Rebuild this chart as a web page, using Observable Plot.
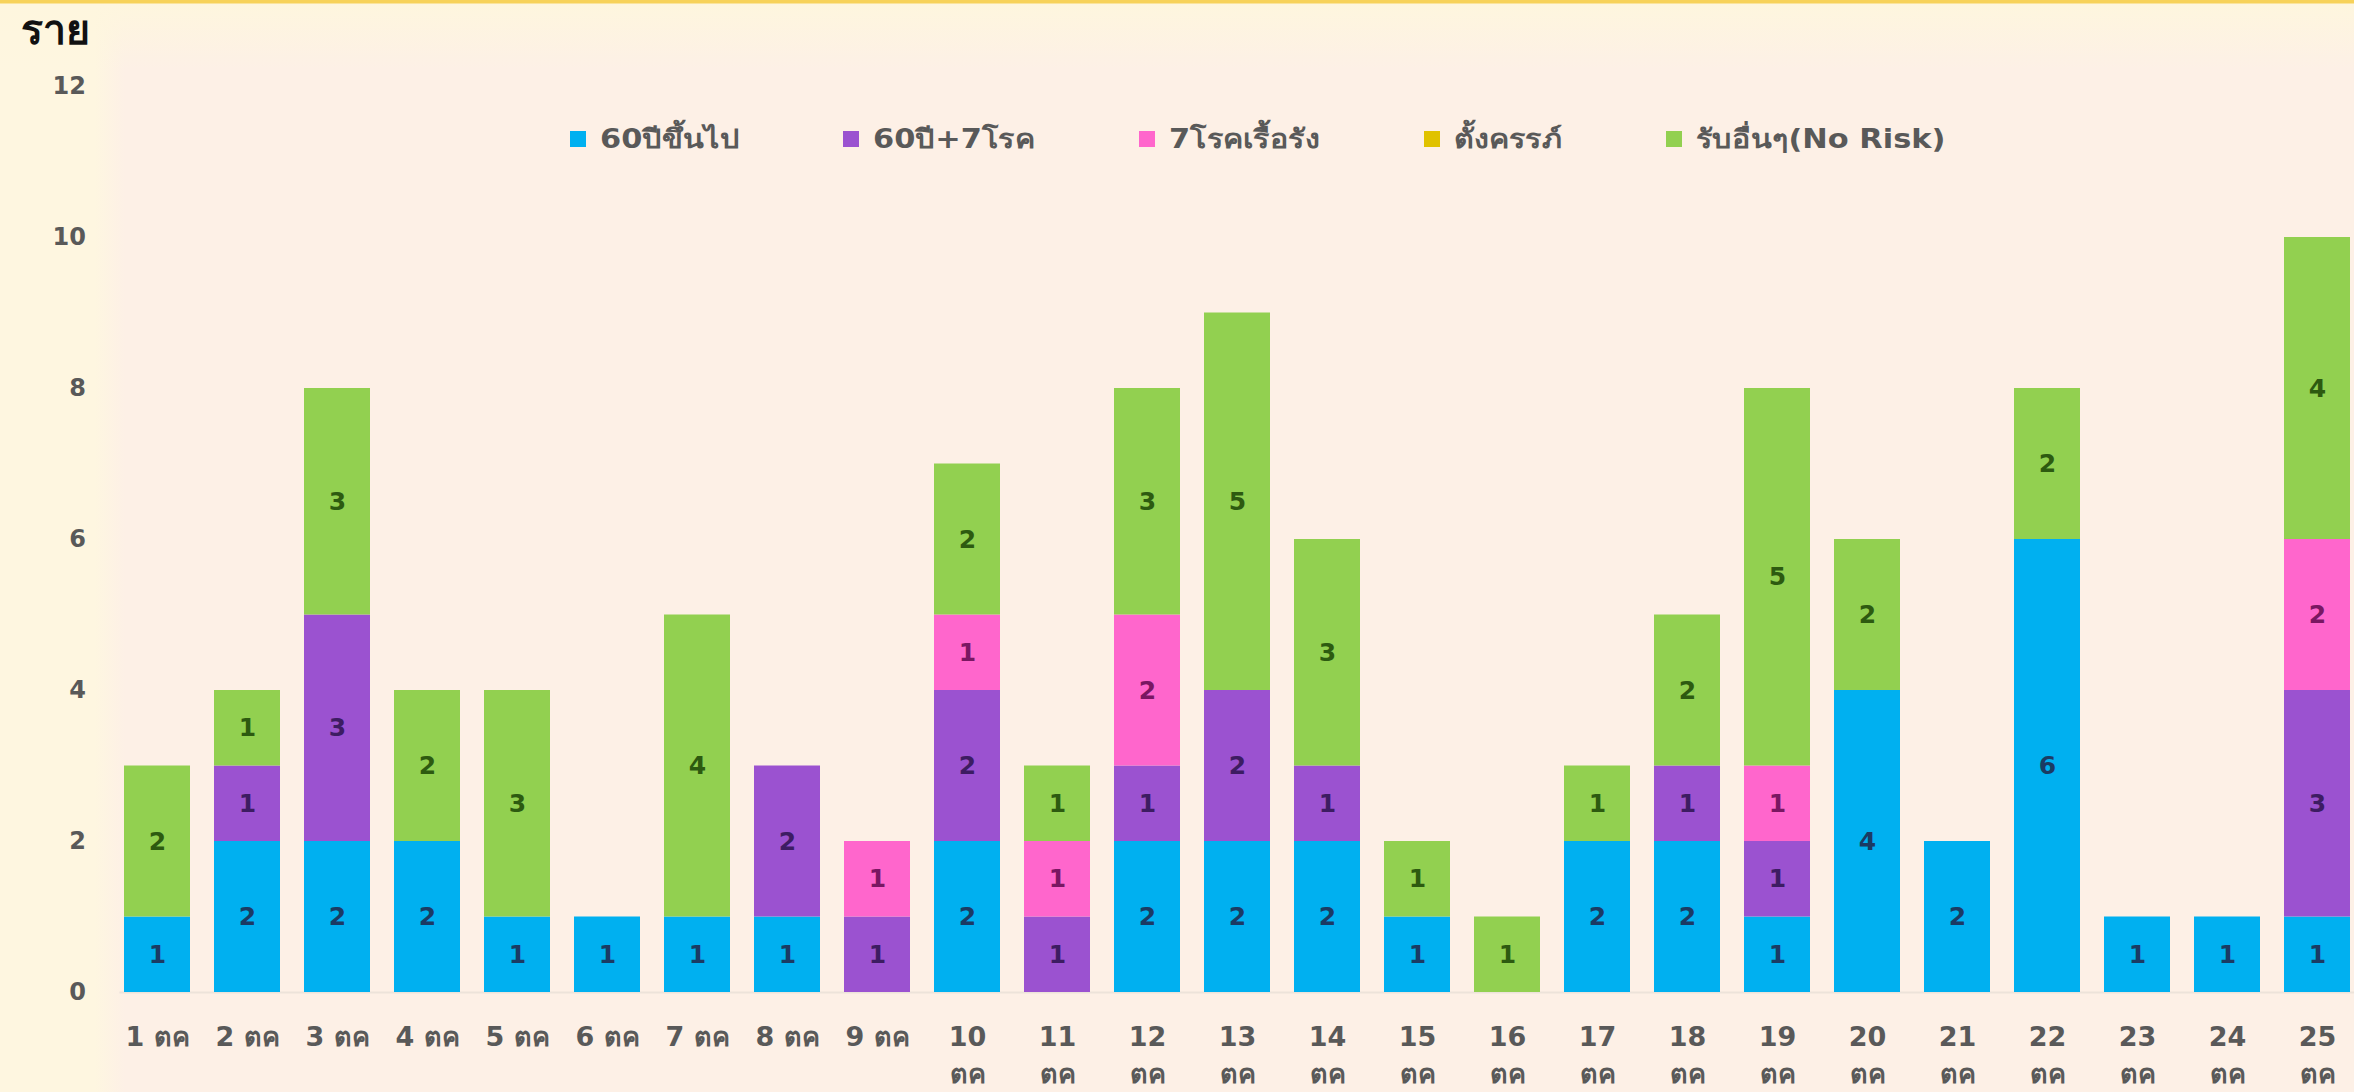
<!DOCTYPE html>
<html>
<head>
<meta charset="utf-8">
<script src="https://cdn.jsdelivr.net/npm/d3@7"></script>
<script src="https://cdn.jsdelivr.net/npm/@observablehq/plot@0.6"></script>
<style>
  html, body { margin: 0; padding: 0; }
  body { width: 2354px; height: 1092px; overflow: hidden; font-family: Tahoma, "DejaVu Sans", "Noto Sans", sans-serif; }
  #wrap {
    position: relative; width: 2354px; height: 1092px; overflow: hidden;
    background:
      linear-gradient(to bottom, #F7D25A 0px, #F7D25A 3px, rgba(254,246,222,1) 4px, rgba(253,240,230,0) 70px),
      linear-gradient(to right, #FEF6E0 0px, #FEF6E0 95px, rgba(253,240,230,0) 125px),
      #FDF0E6;
  }
  #title { height: 62px; padding-left: 21px; font-size: 41px; font-weight: bold; line-height: 60px; color: #111; box-sizing: border-box; }
  #legend { position: absolute; left: 570px; top: 118px; display: flex; align-items: center; font-size: 26px; font-weight: bold; color: #595959; }
  .item { display: flex; align-items: center; margin-right: 104px; }
  .sw { width: 16px; height: 16px; margin-right: 14px; flex: none; }
  .txt { display: inline-block; transform: scaleX(1.17); transform-origin: left center; white-space: nowrap; }
  svg { display: block; }
</style>
</head>
<body>
<div id="wrap">
  <div id="title">ราย</div>
  <div id="chart"></div>
  <div id="legend"></div>
</div>
<script>
const days = ["1 ตค","2 ตค","3 ตค","4 ตค","5 ตค","6 ตค","7 ตค","8 ตค","9 ตค","10 ตค","11 ตค","12 ตค","13 ตค","14 ตค","15 ตค","16 ตค","17 ตค","18 ตค","19 ตค","20 ตค","21 ตค","22 ตค","23 ตค","24 ตค","25 ตค"];
const seriesNames = ["60ปีขึ้นไป","60ปี+7โรค","7โรคเรื้อรัง","ตั้งครรภ์","รับอื่นๆ(No Risk)"];
const seriesColors = ["#00B0F0","#9B52D0","#FF66CC","#E0C200","#92D050"];
const labelColors = ["#1B3B63","#3D1C62","#7A1762","#5C4A00","#2D5A10"];
const age60 =        [1,2,2,2,1,1,1,1,0,2,0,2,2,2,1,0,2,2,1,4,2,6,1,1,1];
const age60chronic = [0,1,3,0,0,0,0,2,1,2,1,1,2,1,0,0,0,1,1,0,0,0,0,0,3];
const chronic7 =     [0,0,0,0,0,0,0,0,1,1,1,2,0,0,0,0,0,0,1,0,0,0,0,0,2];
const pregnant =     [0,0,0,0,0,0,0,0,0,0,0,0,0,0,0,0,0,0,0,0,0,0,0,0,0];
const noRisk =       [2,1,3,2,3,0,4,0,0,2,1,3,5,3,1,1,1,2,5,2,0,2,0,0,4];
const yTicks = [0,2,4,6,8,10,12];

const seriesValues = [age60, age60chronic, chronic7, pregnant, noRisk];
const rows = [];
seriesValues.forEach((vals, si) => vals.forEach((v, i) => rows.push({day: days[i], series: seriesNames[si], value: v})));
const nz = rows.filter(d => d.value > 0);

const labelMarks = seriesNames.map((s, si) =>
  Plot.text(nz, Plot.filter(d => d.series === s, Plot.stackY({
    x: "day", y: "value", z: "series", text: d => String(d.value),
    fill: labelColors[si], fontSize: 25, fontWeight: "bold"
  })))
);

const chart = Plot.plot({
  width: 2354, height: 1030,
  marginLeft: 119.4, marginRight: 0, marginTop: 24, marginBottom: 100,
  style: {background: "transparent", fontFamily: 'Tahoma, "DejaVu Sans", sans-serif', overflow: "visible"},
  x: {domain: days, paddingInner: 0.2675, paddingOuter: 0.034, axis: null, label: null},
  y: {domain: [0, 12], axis: null, label: null},
  color: {domain: seriesNames, range: seriesColors},
  marks: [
    Plot.axisY({ticks: yTicks, tickSize: 0, tickPadding: 34, fontSize: 24, fontWeight: "bold", fill: "#595959", label: null}),
    Plot.axisX({tickSize: 0, tickPadding: 27, fontSize: 27, fontWeight: "bold", fill: "#595959", lineHeight: 1.38,
      tickFormat: d => (parseInt(d) >= 10 ? d.replace(" ", "\n") : d), label: null}),
    Plot.ruleY([0], {stroke: "#EDE3DA", strokeWidth: 2}),
    Plot.barY(nz, {x: "day", y: "value", fill: "series"}),
    ...labelMarks
  ]
});
document.getElementById("chart").appendChild(chart);

const legend = document.getElementById("legend");
seriesNames.forEach((s, i) => {
  const item = document.createElement("div");
  item.className = "item";
  const sw = document.createElement("div");
  sw.className = "sw";
  sw.style.background = seriesColors[i];
  const t = document.createElement("span");
  t.className = "txt";
  t.textContent = s;
  item.appendChild(sw); item.appendChild(t);
  legend.appendChild(item);
  t.style.marginRight = (t.offsetWidth * 0.17) + "px";
});
</script>
</body>
</html>
